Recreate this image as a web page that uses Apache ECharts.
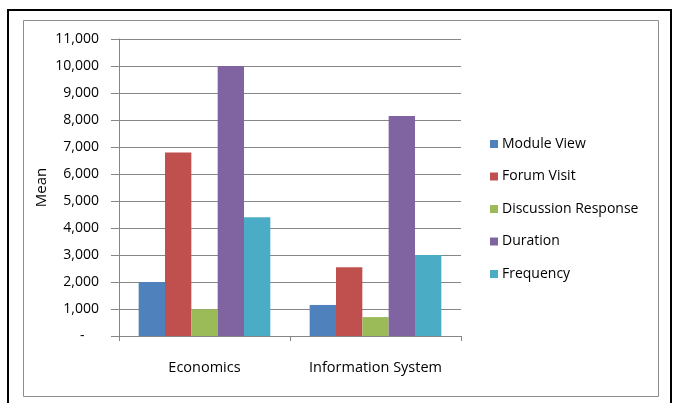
<!DOCTYPE html>
<html><head><meta charset="utf-8">
<script src="https://cdn.jsdelivr.net/npm/echarts@6/dist/echarts.min.js"></script>
<style>html,body{margin:0;padding:0;background:#fff;}#c{width:675px;height:403px;}</style>
</head><body><div id="c"></div>
<script>
const categories = ['Economics', 'Information System'];
const seriesNames = ['Module View', 'Forum Visit', 'Discussion Response', 'Duration', 'Frequency'];
const moduleView = [2000, 1150];
const forumVisit = [6800, 2550];
const discussionResponse = [990, 700];
const duration = [10000, 8150];
const frequency = [4400, 3000];
const colors = ['#4F81BD', '#C0504D', '#9BBB59', '#8064A2', '#4BACC6'];
const values = [moduleView, forumVisit, discussionResponse, duration, frequency];
const FONT = 'Open Sans';

const chart = echarts.init(document.getElementById('c'));
chart.setOption({
  animation: false,
  textStyle: {fontFamily: FONT},
  graphic: [
    {type: 'rect', shape: {x: 8, y: 10, width: 663, height: 420}, style: {fill: 'none', stroke: '#000', lineWidth: 2}, silent: true, z: -10},
    {type: 'rect', shape: {x: 23.5, y: 20.5, width: 635, height: 376}, style: {fill: 'none', stroke: '#8c8c8c', lineWidth: 1}, silent: true, z: -10}
  ],
  grid: {left: 119, right: 214, top: 39, bottom: 67},
  legend: {
    orient: 'vertical', left: 485, top: 130,
    itemWidth: 8, itemHeight: 8, itemGap: 14.5,
    icon: 'rect',
    textStyle: {fontFamily: FONT, fontSize: 14, color: '#000', lineHeight: 18, padding: [0,0,0,-1]},
    data: seriesNames
  },
  xAxis: {
    type: 'category', data: categories,
    axisLine: {lineStyle: {color: '#868686'}},
    axisTick: {show: true, length: 5, lineStyle: {color: '#868686'}},
    axisLabel: {color: '#000', fontSize: 14.5, margin: 24, fontFamily: FONT, interval: 0, hideOverlap: false}
  },
  yAxis: {
    type: 'value', min: 0, max: 11000, interval: 1000,
    name: 'Mean', nameLocation: 'middle', nameGap: 70, nameRotate: 90, nameMoveOverlap: false,
    nameTextStyle: {fontSize: 15, color: '#000', fontFamily: FONT},
    axisLine: {show: true, lineStyle: {color: '#868686'}},
    axisTick: {show: true, length: 8, lineStyle: {color: '#868686'}},
    splitLine: {lineStyle: {color: '#868686'}},
    axisLabel: {color: '#000', fontSize: 14, margin: 20, fontFamily: FONT,
      formatter: v => v === 0 ? '-    ' : v.toLocaleString('en-US')}
  },
  series: seriesNames.map((n, i) => ({
    name: n, type: 'bar', data: values[i],
    barGap: '0%', barCategoryGap: '23%',
    itemStyle: {color: colors[i]}
  }))
});
</script></body></html>
